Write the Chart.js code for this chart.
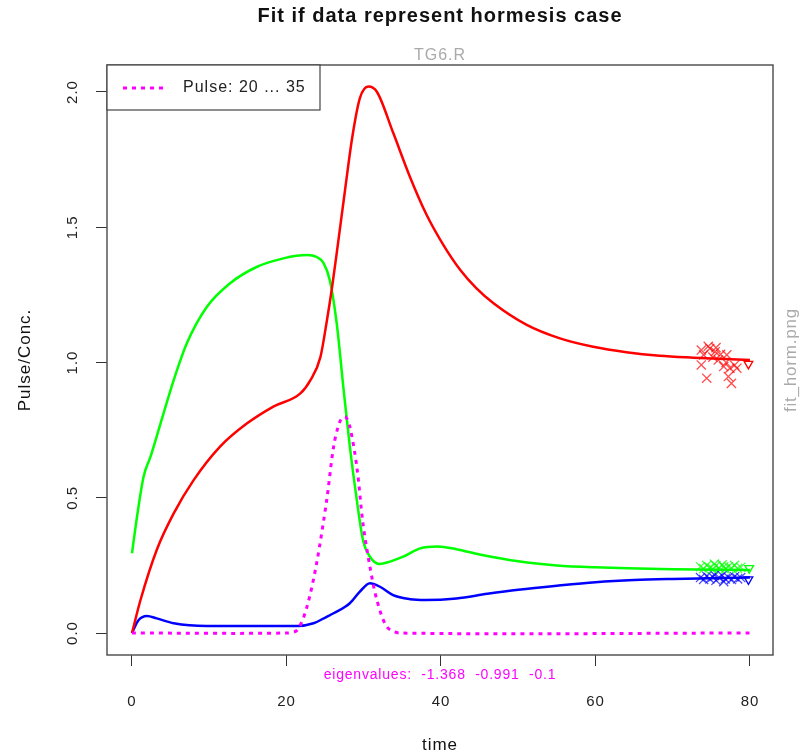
<!DOCTYPE html>
<html>
<head>
<meta charset="utf-8">
<script src="https://cdn.jsdelivr.net/npm/chart.js@4.4.1/dist/chart.umd.min.js"></script>
<style>
  html, body { margin: 0; padding: 0; background: #fff; }
</style>
</head>
<body>
<canvas id="myChart" width="806" height="755"></canvas>
<script>
const FONT = '"Liberation Sans", Arial, sans-serif';

// curves
const timeRed = [0, 1.1, 3.2, 5.4, 8, 11.4, 14.9, 18.3, 21.8, 23.1, 24.4, 25.2, 25.85, 26.5, 27.5, 28.5, 29.5, 30.6, 31.7, 33.8, 36, 38.1, 40.3, 42.5, 44.6, 46.8, 51.1, 55.4, 59.7, 64, 68.3, 72.7, 80];
const concRed = [0, 0.122, 0.307, 0.442, 0.566, 0.689, 0.775, 0.837, 0.886, 0.935, 1.021, 1.15, 1.268, 1.404, 1.62, 1.83, 1.977, 2.02, 2.001, 1.85, 1.685, 1.548, 1.435, 1.342, 1.274, 1.219, 1.139, 1.089, 1.058, 1.038, 1.025, 1.018, 1.009];

const timeGreen = [0, 0.65, 1.5, 2.4, 3.7, 5.4, 7.1, 9.7, 12.7, 16.2, 19.6, 22.65, 23.9, 24.8, 25.6, 26.5, 27.4, 28.2, 29.1, 29.9, 30.8, 32.1, 33.4, 35.1, 37.3, 39.5, 42, 45, 50, 55, 60, 70, 80];
const concGreen = [0.295, 0.43, 0.578, 0.652, 0.775, 0.935, 1.071, 1.206, 1.293, 1.354, 1.385, 1.397, 1.39, 1.367, 1.305, 1.145, 0.898, 0.689, 0.492, 0.344, 0.282, 0.255, 0.264, 0.282, 0.313, 0.32, 0.31, 0.29, 0.265, 0.25, 0.243, 0.236, 0.233];

const timeBlue = [0, 0.86, 1.94, 3.2, 5.4, 9.7, 21.4, 23.5, 25.2, 26.1, 28.2, 29.5, 30.8, 32.1, 33.8, 36, 38, 42, 46, 50, 55, 60, 65, 70, 80];
const concBlue = [0, 0.048, 0.063, 0.054, 0.036, 0.026, 0.026, 0.036, 0.06, 0.073, 0.11, 0.153, 0.184, 0.171, 0.14, 0.125, 0.122, 0.128, 0.145, 0.16, 0.175, 0.188, 0.196, 0.2, 0.205];

const timePulse = [0, 20, 21.4, 22.65, 23.9, 25.2, 26.1, 26.9, 27.6, 28.2, 29.1, 29.9, 30.8, 31.7, 33, 34.7, 80];
const pulse = [0, 0, 0.011, 0.097, 0.258, 0.49, 0.689, 0.781, 0.8, 0.763, 0.615, 0.405, 0.245, 0.122, 0.023, 0, 0];

// observed data (crosses) and last points (triangles)
const obsTime = [73.7, 74.8, 75.5, 74.0, 73.7, 74.4, 75.9, 76.6, 77.0, 77.4, 77.6, 77.2, 78.3, 75.2, 76.2, 76.9, 78.0, 74.6, 75.6];
const obsRed = [1.046, 1.052, 1.04, 1.028, 0.991, 0.942, 1.009, 0.985, 1.028, 0.979, 0.923, 0.948, 0.979, 1.02, 1.03, 1.0, 0.99, 1.06, 1.055];
const obsTime2 = [73.6, 74.0, 74.4, 74.8, 75.2, 75.6, 76.0, 76.4, 76.8, 77.2, 77.6, 78.0, 78.4, 78.8, 75.4, 76.6];
const obsGreen = [0.245, 0.238, 0.25, 0.242, 0.236, 0.248, 0.24, 0.252, 0.237, 0.245, 0.24, 0.25, 0.238, 0.243, 0.255, 0.245];
const obsBlue = [0.205, 0.198, 0.21, 0.2, 0.207, 0.195, 0.205, 0.212, 0.2, 0.206, 0.198, 0.208, 0.2, 0.205, 0.215, 0.19];
const endTime = [79.8, 79.9, 79.8];
const endConc = [0.995, 0.24, 0.198];

const xTicks = [0, 20, 40, 60, 80];
const yTicks = [0, 0.5, 1, 1.5, 2];

function pts(xs, ys) {
    return xs.map((x, i) => ({ x: x, y: ys[i] }));
}

function curve(xs, ys, color) {
    return {
        data: pts(xs, ys),
        borderColor: color,
        borderWidth: 2.5,
        pointRadius: 0,
        cubicInterpolationMode: 'monotone',
        fill: false
    };
}

function marks(xs, ys, color, style, rot, r) {
    return {
        data: pts(xs, ys),
        showLine: false,
        pointStyle: style,
        rotation: rot,
        pointRadius: r,
        borderWidth: 1.3,
        borderColor: color,
        backgroundColor: 'rgba(0,0,0,0)'
    };
}

let pulseSet = curve(timePulse, pulse, '#ff00ff');
pulseSet.borderDash = [4, 5];
pulseSet.borderWidth = 3;
pulseSet.cubicInterpolationMode = 'default';
pulseSet.tension = 0.3;

function text(ctx, str, x, y, font, color, spacing, rot) {
    ctx.save();
    ctx.font = font;
    ctx.fillStyle = color;
    ctx.letterSpacing = spacing + 'px';
    ctx.translate(x, y);
    if (rot) ctx.rotate(rot);
    ctx.fillText(str, 0, 0);
    ctx.restore();
}

// frame, rotated y labels, legend and texts, R style
const rDecor = {
    id: 'rDecor',
    beforeDraw(chart) {
        chart.ctx.letterSpacing = '1px';
    },
    afterDraw(chart) {
        const ctx = chart.ctx;
        const a = chart.chartArea;
        const ys = chart.scales.y;
        const cx = (a.left + a.right) / 2;
        const cy = (a.top + a.bottom) / 2;
        ctx.save();
        ctx.textBaseline = 'middle';
        ctx.textAlign = 'center';

        ctx.strokeStyle = '#555';
        ctx.lineWidth = 1.5;
        ctx.strokeRect(a.left, a.top, a.right - a.left, a.bottom - a.top);

        yTicks.forEach(v => {
            text(ctx, v.toFixed(1), 73, ys.getPixelForValue(v), '15px ' + FONT, '#222', 1, -Math.PI / 2);
        });

        // legend
        ctx.fillStyle = '#fff';
        ctx.fillRect(a.left, a.top, 213, 45);
        ctx.strokeStyle = '#444';
        ctx.lineWidth = 1.2;
        ctx.strokeRect(a.left, a.top, 213, 45);
        ctx.strokeStyle = '#ff00ff';
        ctx.lineWidth = 3;
        ctx.setLineDash([4, 5]);
        ctx.beginPath();
        ctx.moveTo(a.left + 16, a.top + 23);
        ctx.lineTo(a.left + 56, a.top + 23);
        ctx.stroke();
        ctx.setLineDash([]);
        ctx.textAlign = 'left';
        text(ctx, 'Pulse: 20 ... 35', a.left + 76, a.top + 23, '16px ' + FONT, '#222', 1, 0);

        ctx.textAlign = 'center';
        text(ctx, 'Fit if data represent hormesis case', cx, 16, 'bold 20px ' + FONT, '#111', 1, 0);
        text(ctx, 'TG6.R', cx, 56, '16px ' + FONT, '#aaa', 1, 0);
        text(ctx, 'eigenvalues:  -1.368  -0.991  -0.1', cx, 675, '14px ' + FONT, '#ff00ff', 0.8, 0);
        text(ctx, 'time', cx, 745, '17px ' + FONT, '#111', 1, 0);
        text(ctx, 'Pulse/Conc.', 25, cy, '17px ' + FONT, '#111', 1, -Math.PI / 2);
        text(ctx, 'fit_horm.png', 791, cy, '17px ' + FONT, '#aaa', 0.8, -Math.PI / 2);

        ctx.restore();
    }
};

const tickGrid = { drawOnChartArea: false, drawTicks: true, tickLength: 11, color: '#333', lineWidth: 1 };

let config = {
    type: 'line',
    data: {
        datasets: [
            pulseSet,
            curve(timeRed, concRed, '#ff0000'),
            curve(timeGreen, concGreen, '#00ff00'),
            curve(timeBlue, concBlue, '#0000ff'),
            marks(obsTime, obsRed, 'rgba(255,0,0,0.7)', 'crossRot', 0, 6.5),
            marks(obsTime2, obsGreen, 'rgba(0,255,0,0.7)', 'crossRot', 0, 6.5),
            marks(obsTime2, obsBlue, 'rgba(0,0,255,0.7)', 'crossRot', 0, 6.5),
            marks([endTime[0]], [endConc[0]], '#ff0000', 'triangle', 180, 5),
            marks([endTime[1]], [endConc[1]], '#00ff00', 'triangle', 180, 5),
            marks([endTime[2]], [endConc[2]], '#0000ff', 'triangle', 180, 5)
        ]
    },
    options: {
        responsive: false,
        animation: false,
        layout: { padding: { top: 65, right: 33, left: 0, bottom: 0 } },
        plugins: {
            legend: { display: false },
            tooltip: { enabled: false },
            title: { display: false }
        },
        scales: {
            x: {
                type: 'linear',
                min: -3.236,
                max: 82.98,
                afterFit: function (s) { s.height = 100; },
                afterBuildTicks: function (s) { s.ticks = xTicks.map(v => ({ value: v })); },
                ticks: { color: '#222', font: { size: 15, family: FONT }, padding: 27, maxRotation: 0 },
                grid: tickGrid,
                border: { display: false }
            },
            y: {
                min: -0.0813,
                max: 2.0998,
                afterFit: function (s) { s.width = 107; },
                afterBuildTicks: function (s) { s.ticks = yTicks.map(v => ({ value: v })); },
                ticks: { display: false },
                grid: tickGrid,
                border: { display: false }
            }
        }
    },
    plugins: [rDecor]
};

let myChart = new Chart(document.getElementById('myChart'), config);
</script>
</body>
</html>
